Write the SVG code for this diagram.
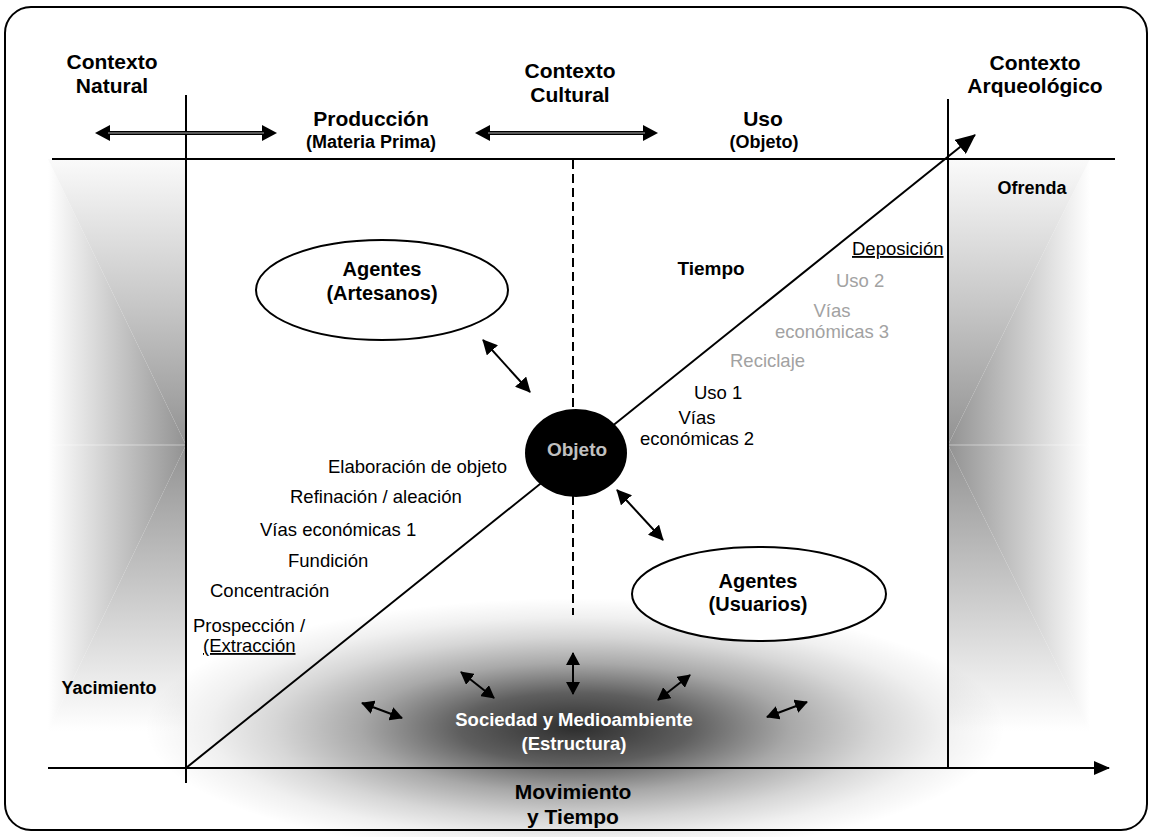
<svg xmlns="http://www.w3.org/2000/svg" width="1151" height="837" viewBox="0 0 1151 837">
  <style>
    text { font-family: "Liberation Sans", Arial, sans-serif; fill: #000; }
    .h { font-size: 21px; font-weight: bold; text-anchor: middle; }
    .s { font-size: 18px; font-weight: bold; text-anchor: middle; }
    .nb { font-size: 20px; font-weight: bold; text-anchor: middle; }
    .r { font-size: 18.5px; }
    .mid { text-anchor: middle; }
    .g { fill: #a2a2a2; }
    .u { text-decoration: underline; }
    .ln { stroke: #000; stroke-width: 2; fill: none; }
    .dbl { stroke: #000; stroke-width: 2; fill: none; marker-start: url(#mHead); marker-end: url(#mHead); }
    .sm { stroke: #000; stroke-width: 2; fill: none; marker-start: url(#mSmall); marker-end: url(#mSmall); }
  </style>
  <defs>
    <marker id="mHead" viewBox="0 0 15 15" refX="14" refY="7.5" markerWidth="15" markerHeight="15" markerUnits="userSpaceOnUse" orient="auto-start-reverse">
      <path d="M0,0 L15,7.5 L0,15 z" fill="#000"/>
    </marker>
    <marker id="mSmall" viewBox="0 0 13 14" refX="12" refY="7" markerWidth="13" markerHeight="14" markerUnits="userSpaceOnUse" orient="auto-start-reverse">
      <path d="M0,0 L13,7 L0,14 z" fill="#000"/>
    </marker>
    <marker id="mTop" viewBox="0 0 15 16" refX="11" refY="8" markerWidth="15" markerHeight="16" markerUnits="userSpaceOnUse" orient="auto-start-reverse">
      <path d="M0,0 L15,8 L0,16 z" fill="#000"/>
    </marker>
    <marker id="mBig" viewBox="0 0 20 18" refX="19" refY="9" markerWidth="20" markerHeight="18" markerUnits="userSpaceOnUse" orient="auto">
      <path d="M0,0 L20,9 L0,18 z" fill="#000"/>
    </marker>
    <marker id="mAxis" viewBox="0 0 16 14" refX="15" refY="7" markerWidth="16" markerHeight="14" markerUnits="userSpaceOnUse" orient="auto">
      <path d="M0,0 L16,7 L0,14 z" fill="#000"/>
    </marker>

    <!-- rectangular shading for the two side bands, built from linear pieces -->
    <linearGradient id="gLx" gradientUnits="userSpaceOnUse" x1="186" y1="0" x2="48" y2="0">
      <stop offset="0" stop-color="#929292"/>
      <stop offset="0.5" stop-color="#c8c8c8"/>
      <stop offset="1" stop-color="#ffffff"/>
    </linearGradient>
    <linearGradient id="gRx" gradientUnits="userSpaceOnUse" x1="948" y1="0" x2="1090" y2="0">
      <stop offset="0" stop-color="#929292"/>
      <stop offset="0.5" stop-color="#c8c8c8"/>
      <stop offset="1" stop-color="#ffffff"/>
    </linearGradient>
    <linearGradient id="gYt" gradientUnits="userSpaceOnUse" x1="0" y1="445" x2="0" y2="159">
      <stop offset="0" stop-color="#929292"/>
      <stop offset="0.5" stop-color="#c8c8c8"/>
      <stop offset="1" stop-color="#fafafa"/>
    </linearGradient>
    <linearGradient id="gYb" gradientUnits="userSpaceOnUse" x1="0" y1="445" x2="0" y2="731">
      <stop offset="0" stop-color="#929292"/>
      <stop offset="0.5" stop-color="#c8c8c8"/>
      <stop offset="1" stop-color="#ffffff"/>
    </linearGradient>

    <!-- dark haze under "Sociedad y Medioambiente" -->
    <radialGradient id="gSoc" gradientUnits="userSpaceOnUse" cx="0" cy="0" r="1" gradientTransform="translate(575 728) scale(430 130)">
      <stop offset="0" stop-color="#000" stop-opacity="0.82"/>
      <stop offset="0.27" stop-color="#000" stop-opacity="0.63"/>
      <stop offset="0.5" stop-color="#000" stop-opacity="0.34"/>
      <stop offset="0.7" stop-color="#000" stop-opacity="0.16"/>
      <stop offset="0.85" stop-color="#000" stop-opacity="0.06"/>
      <stop offset="1" stop-color="#000" stop-opacity="0"/>
    </radialGradient>
  </defs>

  <rect x="0" y="0" width="1151" height="837" fill="#fff"/>

  <!-- side bands -->
  <g id="band-left">
    <polygon points="186,445 48,445 48,159" fill="url(#gLx)"/>
    <polygon points="186,445 48,159 186,159" fill="url(#gYt)"/>
    <polygon points="186,445 48,445 48,731" fill="url(#gLx)"/>
    <polygon points="186,445 48,731 186,731" fill="url(#gYb)"/>
    <line x1="48" y1="445" x2="186" y2="445" stroke="#fff" stroke-opacity="0.45" stroke-width="1"/>
  </g>
  <g id="band-right">
    <polygon points="948,445 1090,445 1090,159" fill="url(#gRx)"/>
    <polygon points="948,445 1090,159 948,159" fill="url(#gYt)"/>
    <polygon points="948,445 1090,445 1090,731" fill="url(#gRx)"/>
    <polygon points="948,445 1090,731 948,731" fill="url(#gYb)"/>
    <line x1="948" y1="445" x2="1090" y2="445" stroke="#fff" stroke-opacity="0.45" stroke-width="1"/>
  </g>

  <g id="haze">
    <rect x="145" y="598" width="860" height="239" fill="url(#gSoc)"/>
  </g>

  <!-- frame -->
  <rect id="frame" x="5" y="7" width="1142" height="823" rx="26" fill="none" stroke="#000" stroke-width="2"/>

  <!-- axes, dividers and arrows -->
  <g id="connectors">
    <line class="ln" x1="52" y1="159" x2="1115" y2="159"/>
    <line class="ln" x1="186" y1="95" x2="186" y2="783"/>
    <line class="ln" x1="948" y1="99" x2="948" y2="768"/>
    <line class="ln" x1="573" y1="160" x2="573" y2="615" stroke-dasharray="9 5"/>
    <line class="ln" x1="48" y1="768" x2="1109" y2="768" marker-end="url(#mAxis)"/>
    <line class="ln" x1="186" y1="768" x2="975" y2="135" marker-end="url(#mBig)"/>

    <!-- top double arrows -->
    <line x1="99" y1="133" x2="273" y2="133" stroke="#000" stroke-width="4" marker-start="url(#mTop)" marker-end="url(#mTop)"/>
    <line x1="108" y1="133" x2="264" y2="133" stroke="#b0b0b0" stroke-width="1"/>
    <line x1="479" y1="133" x2="654" y2="133" stroke="#000" stroke-width="4" marker-start="url(#mTop)" marker-end="url(#mTop)"/>
    <line x1="488" y1="133" x2="645" y2="133" stroke="#b0b0b0" stroke-width="1"/>

    <!-- agents to object -->
    <line class="dbl" x1="483" y1="340" x2="530" y2="392"/>
    <line class="dbl" x1="617" y1="490" x2="663" y2="540"/>

    <!-- society links -->
    <line class="sm" x1="362" y1="703" x2="402" y2="718"/>
    <line class="sm" x1="461" y1="672" x2="494" y2="698"/>
    <line class="sm" x1="573" y1="653" x2="573" y2="694"/>
    <line class="sm" x1="658" y1="700" x2="690" y2="675"/>
    <line class="sm" x1="767" y1="717" x2="807" y2="702"/>
  </g>

  <!-- column headers -->
  <g id="ctx-natural">
    <text class="h" x="112" y="69">Contexto</text>
    <text class="h" x="112" y="93">Natural</text>
  </g>
  <g id="produccion">
    <text class="h" x="371" y="126">Producción</text>
    <text class="s" x="371" y="148">(Materia Prima)</text>
  </g>
  <g id="ctx-cultural">
    <text class="h" x="570" y="78">Contexto</text>
    <text class="h" x="570" y="102">Cultural</text>
  </g>
  <g id="uso">
    <text class="h" x="763" y="126">Uso</text>
    <text class="s" x="764" y="148">(Objeto)</text>
  </g>
  <g id="ctx-arqueologico">
    <text class="h" x="1035" y="70">Contexto</text>
    <text class="h" x="1035" y="93">Arqueológico</text>
  </g>
  <g id="ofrenda">
    <text class="s" x="1032" y="194">Ofrenda</text>
  </g>
  <g id="yacimiento">
    <text class="s" x="109" y="694">Yacimiento</text>
  </g>

  <!-- agents -->
  <g id="artesanos">
    <ellipse cx="382" cy="290" rx="126" ry="50" fill="#fff" stroke="#000" stroke-width="2"/>
    <text class="nb" x="382" y="276">Agentes</text>
    <text class="nb" x="382" y="300">(Artesanos)</text>
  </g>
  <g id="usuarios">
    <ellipse cx="759" cy="594" rx="127" ry="47" fill="#fff" stroke="#000" stroke-width="2"/>
    <text class="nb" x="758" y="588">Agentes</text>
    <text class="nb" x="758" y="611">(Usuarios)</text>
  </g>

  <!-- object -->
  <g id="objeto">
    <ellipse cx="576" cy="453" rx="51" ry="44" fill="#000"/>
    <text x="577" y="456" font-size="19" font-weight="bold" text-anchor="middle" style="fill:#c0c0c0">Objeto</text>
  </g>

  <!-- production stages -->
  <g id="etapas-produccion">
    <text class="r" x="328" y="473">Elaboración de objeto</text>
    <text class="r" x="290" y="503">Refinación / aleación</text>
    <text class="r" x="260" y="536">Vías económicas 1</text>
    <text class="r" x="288" y="567">Fundición</text>
    <text class="r" x="210" y="597">Concentración</text>
    <text class="r" x="193" y="632">Prospección /</text>
    <text class="r u" x="203" y="652">(Extracción</text>
  </g>

  <!-- use stages -->
  <g id="etapas-uso">
    <text x="711" y="275" font-size="19" font-weight="bold" text-anchor="middle">Tiempo</text>
    <text class="r u" x="852" y="255">Deposición</text>
    <text class="r g" x="836" y="287">Uso 2</text>
    <text class="r g mid" x="832" y="317">Vías</text>
    <text class="r g" x="775" y="338">económicas 3</text>
    <text class="r g" x="730" y="367">Reciclaje</text>
    <text class="r" x="694" y="399">Uso 1</text>
    <text class="r mid" x="697" y="424">Vías</text>
    <text class="r" x="640" y="445">económicas 2</text>
  </g>

  <g id="sociedad">
    <text x="574" y="726" font-size="18.5" font-weight="bold" text-anchor="middle" style="fill:#fff">Sociedad y Medioambiente</text>
    <text x="574" y="750" font-size="18.5" font-weight="bold" text-anchor="middle" style="fill:#fff">(Estructura)</text>
  </g>

  <g id="movimiento">
    <text class="h" x="573" y="799">Movimiento</text>
    <text class="h" x="573" y="824">y Tiempo</text>
  </g>
</svg>
